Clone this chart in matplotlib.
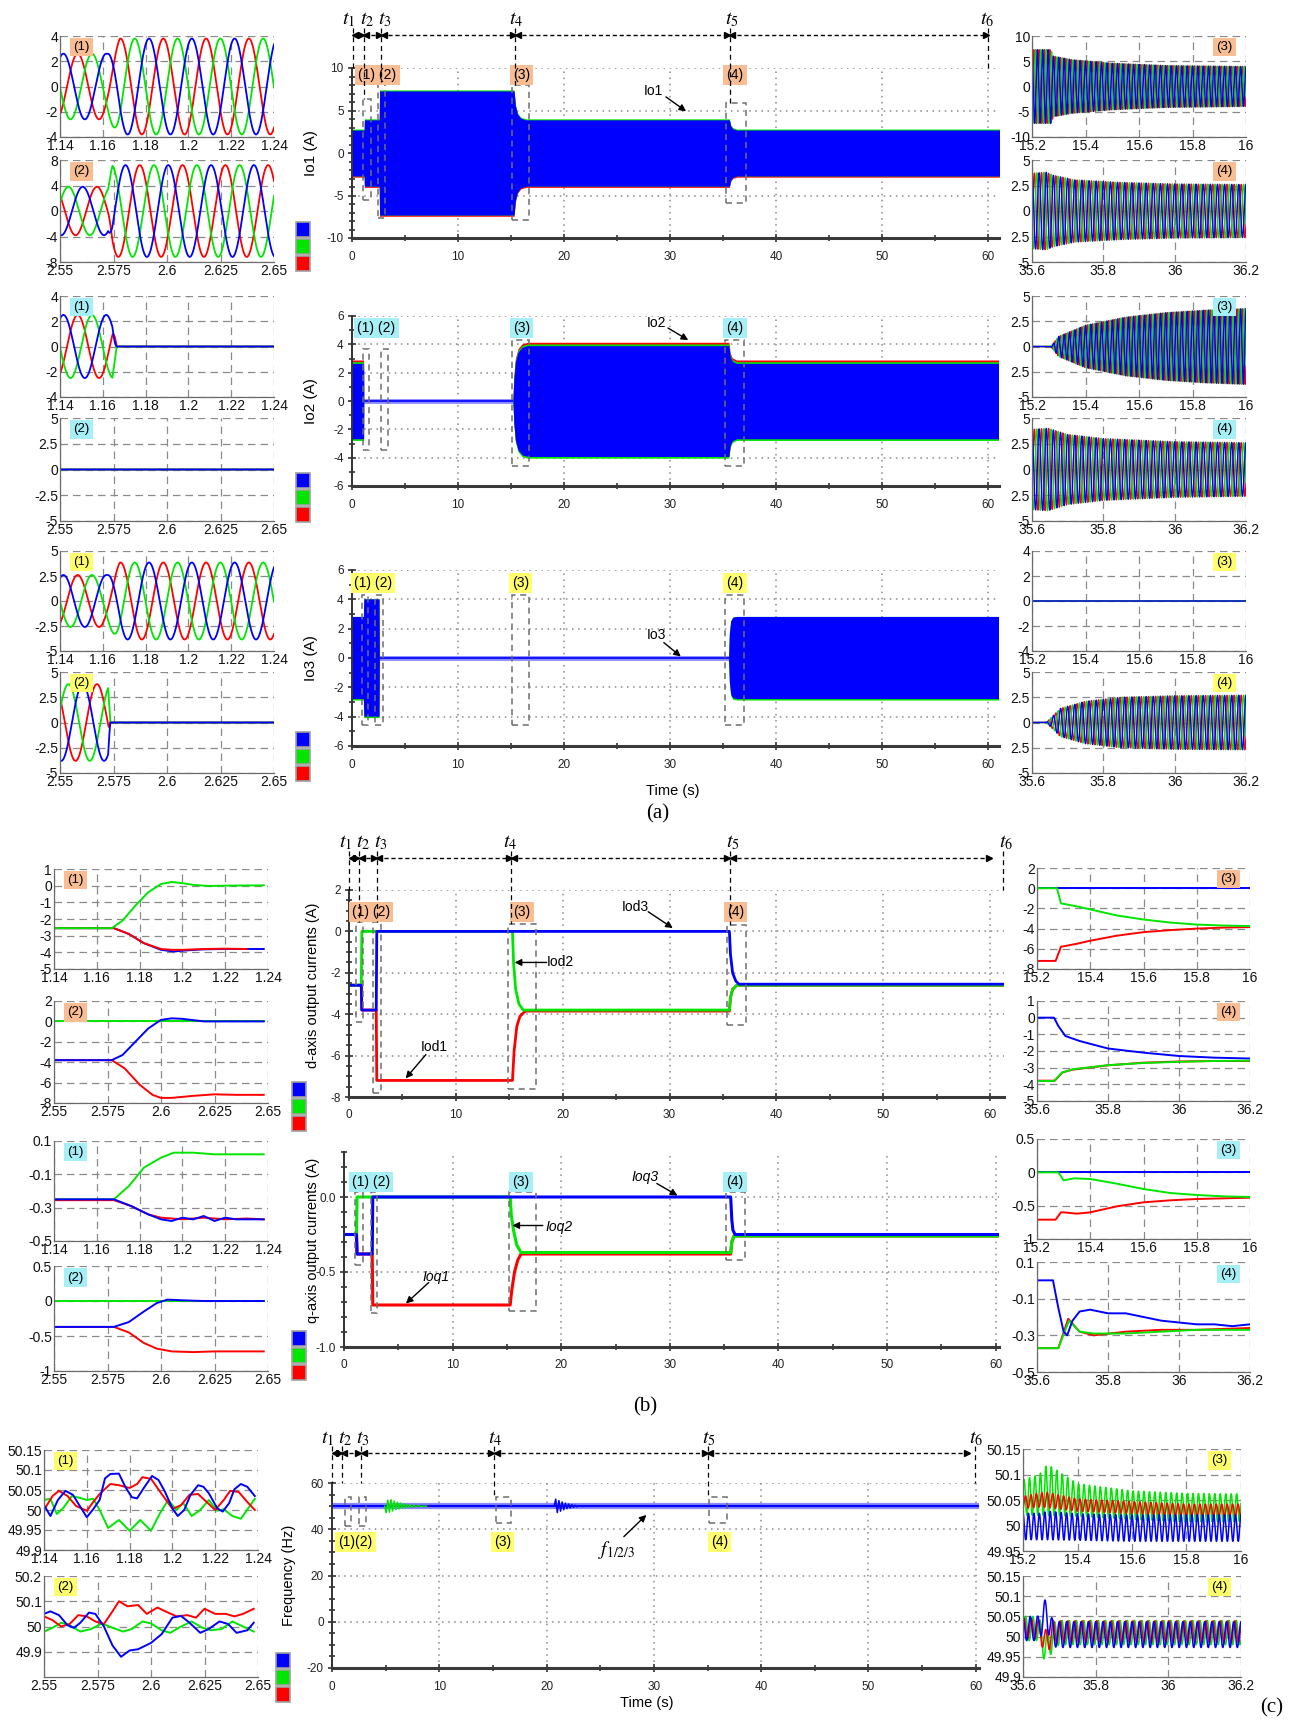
import numpy as np
import matplotlib
matplotlib.use("Agg")
import matplotlib.pyplot as plt
from matplotlib.patches import Rectangle
from matplotlib.lines import Line2D
import matplotlib.transforms as mtransforms

plt.rcParams['font.family'] = ['Liberation Sans', 'DejaVu Sans']
plt.rcParams['mathtext.fontset'] = 'stix'

W, H = 1295, 1720
fig = plt.figure(figsize=(W / 100, H / 100), dpi=100)

BLUE, GREEN, RED = '#0000ff', '#00e600', '#ff0000'
TAG_ORANGE, TAG_CYAN, TAG_YELLOW = '#f8bd93', '#a6eff7', '#ffff6b'
F_GRID = 50.0

# ====================== data ======================
# --- (a) output-current envelopes over the whole run (time s, peak A)
io1_env_t = [0, 1.15, 1.17, 2.57, 2.6, 15.28, 15.4, 15.6, 15.9, 16.4, 35.58, 35.7, 35.9, 36.3, 61.2]
io1_env_a = [2.7, 2.7, 3.9, 3.9, 7.3, 7.3, 5.6, 4.6, 4.1, 3.9, 3.9, 3.2, 2.85, 2.7, 2.7]
io2_env_t = [0, 1.14, 1.16, 15.22, 15.3, 15.45, 15.7, 16.1, 16.6, 35.58, 35.7, 35.9, 36.3, 61.2]
io2_env_a = [2.7, 2.7, 0, 0, 1.5, 2.8, 3.5, 3.85, 3.95, 3.95, 3.2, 2.85, 2.7, 2.7]
io3_env_t = [0, 1.12, 1.16, 2.6, 2.63, 35.55, 35.62, 35.75, 35.95, 36.3, 61.2]
io3_env_a = [2.8, 2.8, 4.0, 4.0, 0, 0, 1.6, 2.5, 2.75, 2.8, 2.8]

# --- (a) zoomed three-phase windows: envelope keypoints and phase-a peak instant
za1 = dict(t=[1.14, 1.162, 1.168, 1.24], a=[2.6, 2.6, 3.8, 3.8], peak=1.1416)
za2 = dict(t=[2.55, 2.5725, 2.5745, 2.65], a=[3.8, 3.8, 7.2, 7.2], peak=2.5606)
za3 = dict(t=[15.2, 15.27, 15.28, 15.35, 15.5, 15.7, 16.0], a=[7.3, 7.3, 6.0, 5.3, 4.6, 4.15, 3.95], peak=15.2)
za4 = dict(t=[35.6, 35.64, 35.66, 35.72, 35.85, 36.0, 36.2], a=[3.7, 3.8, 3.5, 3.05, 2.8, 2.65, 2.6], peak=35.6)
zb1 = dict(t=[1.14, 1.1645, 1.1665, 1.24], a=[2.5, 2.5, 0, 0], peak=1.1416)
zb2 = dict(t=[2.55, 2.65], a=[0, 0], peak=2.5606)
zb3 = dict(t=[15.2, 15.27, 15.3, 15.4, 15.55, 15.7, 15.85, 16.0], a=[0, 0, 1.0, 2.1, 2.9, 3.35, 3.6, 3.75], peak=15.2)
zb4 = dict(t=[35.6, 35.645, 35.7, 35.8, 36.0, 36.2], a=[3.9, 4.0, 3.4, 3.0, 2.7, 2.6], peak=35.6)
zc1 = dict(t=[1.14, 1.162, 1.168, 1.24], a=[2.6, 2.6, 3.85, 3.85], peak=1.1416)
zc2 = dict(t=[2.55, 2.5725, 2.5735, 2.65], a=[3.8, 3.8, 0, 0], peak=2.5606)
zc3 = dict(t=[15.2, 16.0], a=[0, 0], peak=15.2)
zc4 = dict(t=[35.6, 35.64, 35.68, 35.75, 35.85, 36.0, 36.2], a=[0, 0, 1.4, 2.1, 2.5, 2.65, 2.7], peak=35.6)

# --- (b) dq output currents over the whole run
iod1_t = [0, 1.15, 1.2, 2.55, 2.6, 15.3, 15.45, 15.7, 16.0, 16.5, 35.6, 35.7, 35.9, 36.3, 61.3]
iod1_v = [-2.6, -2.6, -3.8, -3.8, -7.2, -7.2, -5.8, -4.6, -4.1, -3.85, -3.85, -3.2, -2.8, -2.6, -2.6]
iod2_t = [0, 1.15, 1.2, 15.3, 15.4, 15.6, 15.9, 16.3, 35.6, 35.7, 35.9, 36.3, 61.3]
iod2_v = [-2.6, -2.6, 0, 0, -1.5, -2.8, -3.5, -3.8, -3.8, -3.2, -2.8, -2.6, -2.6]
iod3_t = [0, 1.15, 1.2, 2.55, 2.6, 35.6, 35.7, 35.9, 36.2, 36.5, 61.3]
iod3_v = [-2.6, -2.6, -3.8, -3.8, 0, 0, -1.1, -2.0, -2.4, -2.55, -2.55]
ioq1_t = [0, 1.15, 1.2, 2.6, 2.65, 15.3, 15.45, 15.7, 16.0, 16.3, 35.6, 35.7, 35.9, 60.3]
ioq1_v = [-0.25, -0.25, -0.38, -0.38, -0.72, -0.72, -0.62, -0.5, -0.42, -0.38, -0.38, -0.3, -0.26, -0.26]
ioq2_t = [0, 1.15, 1.2, 15.3, 15.4, 15.6, 15.9, 16.3, 35.6, 35.7, 35.9, 60.3]
ioq2_v = [-0.25, -0.25, 0, 0, -0.12, -0.22, -0.32, -0.37, -0.37, -0.3, -0.26, -0.26]
ioq3_t = [0, 1.15, 1.2, 2.6, 2.65, 35.6, 35.7, 35.8, 36.0, 60.3]
ioq3_v = [-0.25, -0.25, -0.38, -0.38, 0, 0, -0.15, -0.22, -0.25, -0.25]

# --- (b) zoomed d-axis windows
bd1_red = ([1.14, 1.168, 1.175, 1.182, 1.19, 1.195, 1.2, 1.21, 1.22, 1.23],
           [-2.55, -2.55, -2.9, -3.45, -3.8, -3.85, -3.85, -3.8, -3.78, -3.8])
bd1_blue = ([1.14, 1.168, 1.175, 1.182, 1.19, 1.196, 1.2, 1.21, 1.22, 1.238],
            [-2.55, -2.55, -2.9, -3.45, -3.85, -3.95, -3.9, -3.82, -3.8, -3.8])
bd1_green = ([1.14, 1.167, 1.172, 1.178, 1.184, 1.19, 1.195, 1.2, 1.205, 1.212, 1.22, 1.238],
             [-2.55, -2.55, -2.1, -1.2, -0.4, 0.1, 0.22, 0.15, 0.05, -0.02, 0.0, 0.02])
bd2_green = ([2.55, 2.648], [0.0, 0.0])
bd2_blue = ([2.55, 2.577, 2.582, 2.588, 2.594, 2.6, 2.605, 2.61, 2.62, 2.635, 2.648],
            [-3.8, -3.8, -3.3, -2.0, -0.7, 0.15, 0.3, 0.25, 0.0, 0.0, 0.0])
bd2_red = ([2.55, 2.577, 2.583, 2.59, 2.596, 2.6, 2.605, 2.615, 2.625, 2.635, 2.648],
           [-3.8, -3.8, -4.6, -6.2, -7.2, -7.5, -7.5, -7.3, -7.15, -7.2, -7.2])
bd3_blue = ([15.2, 16.0], [0.0, 0.0])
bd3_green = ([15.2, 15.275, 15.29, 15.35, 15.4, 15.5, 15.6, 15.7, 15.8, 15.9, 16.0],
             [0, 0, -1.5, -1.8, -2.1, -2.7, -3.1, -3.4, -3.6, -3.7, -3.75])
bd3_red = ([15.2, 15.27, 15.29, 15.35, 15.4, 15.5, 15.6, 15.7, 15.8, 15.9, 16.0],
           [-7.2, -7.2, -5.8, -5.5, -5.2, -4.7, -4.35, -4.15, -4.0, -3.9, -3.85])
bd4_blue = ([35.6, 35.648, 35.66, 35.68, 35.72, 35.8, 35.9, 36.0, 36.1, 36.2],
            [0, 0, -0.5, -1.1, -1.4, -1.85, -2.1, -2.3, -2.4, -2.45])
bd4_green = ([35.6, 35.648, 35.67, 35.7, 35.8, 35.9, 36.0, 36.1, 36.2],
             [-3.8, -3.8, -3.3, -3.1, -2.85, -2.72, -2.65, -2.6, -2.58])
bd4_red = ([35.6, 35.65, 35.672, 35.7, 35.8, 35.9, 36.0, 36.1, 36.2],
           [-3.78, -3.78, -3.28, -3.12, -2.86, -2.7, -2.63, -2.6, -2.6])

# --- (b) zoomed q-axis windows
bq1_green = ([1.14, 1.168, 1.175, 1.182, 1.19, 1.196, 1.205, 1.215, 1.238],
             [-0.25, -0.25, -0.17, -0.06, 0.0, 0.03, 0.03, 0.02, 0.02])
bq1_red = ([1.14, 1.168, 1.176, 1.184, 1.19, 1.2, 1.21, 1.22, 1.23, 1.238],
           [-0.255, -0.255, -0.29, -0.34, -0.36, -0.37, -0.36, -0.37, -0.365, -0.37])
bq1_blue = ([1.14, 1.168, 1.176, 1.184, 1.19, 1.195, 1.2, 1.205, 1.21, 1.215, 1.22, 1.225, 1.23, 1.238],
            [-0.25, -0.25, -0.29, -0.34, -0.37, -0.38, -0.36, -0.37, -0.35, -0.38, -0.36, -0.37, -0.37, -0.37])
bq2_green = ([2.55, 2.648], [0.0, 0.0])
bq2_blue = ([2.55, 2.578, 2.585, 2.592, 2.598, 2.603, 2.61, 2.62, 2.648],
            [-0.37, -0.37, -0.3, -0.15, -0.03, 0.02, 0.01, 0.0, 0.0])
bq2_red = ([2.55, 2.578, 2.585, 2.592, 2.598, 2.605, 2.615, 2.625, 2.648],
           [-0.37, -0.37, -0.45, -0.6, -0.68, -0.72, -0.73, -0.72, -0.72])
bq3_blue = ([15.2, 16.0], [0.0, 0.0])
bq3_green = ([15.2, 15.28, 15.3, 15.34, 15.4, 15.5, 15.6, 15.7, 15.8, 15.9, 16.0],
             [0, 0, -0.12, -0.09, -0.1, -0.17, -0.25, -0.31, -0.34, -0.36, -0.37])
bq3_red = ([15.2, 15.27, 15.29, 15.3, 15.35, 15.4, 15.5, 15.6, 15.7, 15.8, 15.9, 16.0],
           [-0.71, -0.71, -0.6, -0.6, -0.62, -0.6, -0.51, -0.45, -0.42, -0.4, -0.39, -0.38])
bq4_blue = ([35.6, 35.645, 35.66, 35.675, 35.685, 35.7, 35.72, 35.75, 35.8, 35.85, 35.9, 35.95, 36.0, 36.05, 36.1, 36.15, 36.2],
            [0.0, 0.0, -0.15, -0.28, -0.3, -0.22, -0.17, -0.16, -0.18, -0.18, -0.2, -0.22, -0.23, -0.24, -0.24, -0.25, -0.24])
bq4_green = ([35.6, 35.66, 35.69, 35.72, 35.76, 35.85, 35.95, 36.05, 36.2],
             [-0.37, -0.37, -0.22, -0.28, -0.29, -0.29, -0.28, -0.27, -0.27])
bq4_red = ([35.6, 35.66, 35.688, 35.72, 35.76, 35.85, 35.95, 36.05, 36.2],
           [-0.37, -0.37, -0.21, -0.28, -0.3, -0.28, -0.27, -0.27, -0.26])

# --- (c) frequency over the whole run
f_t = [0, 60.3]
f_v = [50.0, 50.0]
fg_t = [4.9, 5.05, 5.2, 5.35, 5.5, 5.65, 5.8, 5.95, 6.1, 6.25, 6.4, 6.55, 6.7, 6.85, 7.0, 7.15, 7.3, 7.45, 7.6, 7.8, 8.0, 8.3, 8.8]
fg_v = [50.0, 47.2, 52.6, 47.4, 52.8, 47.9, 52.2, 48.5, 51.7, 48.8, 51.3, 49.1, 51.0, 49.3, 50.7, 49.5, 50.5, 49.6, 50.4, 49.8, 50.2, 49.9, 50.0]
fb_t = [20.7, 20.85, 21.0, 21.15, 21.3, 21.45, 21.6, 21.75, 21.9, 22.05, 22.2, 22.35, 22.5, 22.65, 22.8, 23.0, 23.3, 23.8]
fb_v = [50.0, 53.0, 47.2, 52.4, 47.8, 51.8, 48.4, 51.3, 48.9, 50.9, 49.2, 50.6, 49.5, 50.4, 49.7, 50.2, 49.9, 50.0]

# --- (c) zoomed frequency windows (1), (2)
c1_blue = ([1.140, 1.143, 1.1465, 1.150, 1.1535, 1.1565, 1.160, 1.163, 1.166, 1.1685, 1.171, 1.175, 1.178, 1.181,
            1.1835, 1.1865, 1.1905, 1.1935, 1.1965, 1.200, 1.2025, 1.2055, 1.2085, 1.212, 1.2145, 1.217, 1.221,
            1.2235, 1.2265, 1.229, 1.232, 1.235, 1.2385],
           [50.012, 49.985, 50.025, 50.048, 50.038, 50.012, 49.982, 50.002, 50.025, 50.079, 50.090, 50.091, 50.058,
            50.032, 50.029, 50.054, 50.085, 50.075, 50.046, 50.004, 49.985, 50.000, 50.038, 50.062, 50.058, 50.042,
            50.004, 49.996, 50.017, 50.052, 50.065, 50.058, 50.035])
c1_red = ([1.140, 1.144, 1.147, 1.151, 1.155, 1.160, 1.163, 1.166, 1.171, 1.175, 1.180, 1.1835, 1.186, 1.190,
           1.195, 1.200, 1.204, 1.208, 1.212, 1.216, 1.220, 1.224, 1.227, 1.231, 1.235, 1.2385],
          [50.000, 50.035, 50.048, 50.035, 50.010, 49.998, 50.020, 50.040, 50.065, 50.062, 50.055, 50.065, 50.082,
           50.078, 50.040, 50.003, 50.012, 50.038, 50.040, 50.020, 50.000, 50.025, 50.048, 50.045, 50.020, 50.000])
c1_green = ([1.140, 1.143, 1.146, 1.149, 1.153, 1.157, 1.160, 1.163, 1.166, 1.170, 1.175, 1.180, 1.185, 1.190,
             1.194, 1.198, 1.202, 1.205, 1.209, 1.213, 1.217, 1.221, 1.224, 1.228, 1.232, 1.2385],
            [50.025, 50.028, 49.990, 50.005, 50.035, 50.030, 50.025, 50.028, 50.000, 49.955, 49.975, 49.948, 49.975,
             49.948, 49.990, 50.025, 50.000, 50.018, 49.985, 50.000, 50.025, 49.998, 50.002, 49.985, 49.978, 50.028])
c2_blue = ([2.550, 2.553, 2.557, 2.561, 2.564, 2.567, 2.571, 2.574, 2.578, 2.582, 2.586, 2.590, 2.594, 2.600,
            2.605, 2.610, 2.614, 2.618, 2.623, 2.627, 2.632, 2.636, 2.640, 2.645, 2.648],
           [50.050, 50.060, 50.045, 50.005, 49.995, 50.015, 50.055, 50.050, 50.000, 49.925, 49.880, 49.905, 49.910,
            49.935, 49.970, 50.035, 50.042, 50.015, 49.975, 49.990, 50.020, 50.010, 49.975, 49.985, 50.015])
c2_red = ([2.550, 2.554, 2.558, 2.562, 2.566, 2.570, 2.574, 2.578, 2.582, 2.585, 2.589, 2.594, 2.598, 2.603,
           2.608, 2.612, 2.617, 2.621, 2.625, 2.630, 2.635, 2.639, 2.643, 2.648],
          [50.040, 50.025, 50.000, 50.010, 50.045, 50.040, 50.020, 50.010, 50.060, 50.100, 50.080, 50.085, 50.050,
           50.075, 50.055, 50.040, 50.045, 50.035, 50.070, 50.050, 50.050, 50.040, 50.050, 50.070])
c2_green = ([2.550, 2.554, 2.558, 2.562, 2.567, 2.572, 2.577, 2.582, 2.587, 2.591, 2.596, 2.600, 2.605, 2.609,
             2.614, 2.619, 2.624, 2.628, 2.633, 2.638, 2.643, 2.648],
            [49.980, 49.995, 50.015, 50.005, 49.980, 49.990, 50.012, 49.995, 49.980, 49.990, 50.020, 50.012, 49.985,
             49.975, 50.000, 50.020, 49.995, 49.985, 49.990, 50.020, 50.000, 49.980])

# --- (c) zoomed windows (3), (4): mean level and ripple amplitude keypoints, ripple delay (s)
c3_t = [15.2, 15.26, 15.29, 15.4, 15.6, 15.8, 16.0]
c3_green = dict(mean=[50.055, 50.06, 50.07, 50.05, 50.04, 50.035, 50.035], amp=[0.035, 0.04, 0.05, 0.032, 0.028, 0.028, 0.027], delay=0.004)
c3_red = dict(mean=[50.045, 50.05, 50.05, 50.04, 50.035, 50.03, 50.03], amp=[0.012, 0.014, 0.015, 0.012, 0.012, 0.012, 0.012], delay=0.009)
c3_blue = dict(mean=[49.998, 49.998, 50.0, 49.997, 49.995, 49.995, 49.995], amp=[0.026, 0.026, 0.028, 0.026, 0.026, 0.026, 0.026], delay=0.0)
c4_t = [35.6, 35.64, 35.665, 35.68, 35.7, 36.2]
c4_green = dict(mean=[50.02, 50.02, 49.97, 50.0, 50.01, 50.01], amp=[0.03, 0.03, 0.045, 0.035, 0.03, 0.03], delay=0.007)
c4_red = dict(mean=[50.02, 50.02, 49.985, 50.01, 50.012, 50.012], amp=[0.025, 0.025, 0.03, 0.03, 0.027, 0.027], delay=0.003)
c4_blue = dict(mean=[50.02, 50.02, 50.06, 50.01, 50.005, 50.005], amp=[0.03, 0.03, 0.04, 0.035, 0.032, 0.032], delay=0.0)

# event instants (s) marked above each overview, and where their t-labels sit
ta_lines = [0.05, 1.1, 2.75, 15.4, 35.6, 60.0]
ta_labels = [-0.3, 1.45, 3.1, 15.5, 35.8, 59.9]
tb_lines = [0.0, 0.94, 2.6, 15.2, 35.65, 61.2]
tb_labels = [-0.35, 1.3, 2.95, 15.1, 35.9, 61.5]
tc_lines = [0.0, 0.9, 2.7, 15.1, 35.0, 59.9]
tc_labels = [-0.4, 1.2, 2.9, 15.25, 35.1, 60.0]


# ====================== helpers ======================
def fy(px):
    return 1 - px / H


def px_axes(left, top, right, bottom):
    return fig.add_axes([left / W, 1 - bottom / H, (right - left) / W, (bottom - top) / H])


def zoom_panel(box, xlim, xticks, xlabels, ylim, yticks, ylabels, tag, tag_color, tag_x):
    ax = px_axes(*box)
    ax.set_xlim(*xlim)
    ax.set_ylim(*ylim)
    ax.set_xticks(xticks, xlabels)
    ax.set_yticks(yticks, ylabels)
    ax.tick_params(length=0, labelsize=10, pad=1.5, labelcolor='#111111')
    ax.grid(True, color='#8a8a8a', linestyle=(0, (6, 4)), linewidth=0.9)
    ax.set_axisbelow(True)
    for s in ('top', 'right'):
        ax.spines[s].set_visible(False)
    for s in ('left', 'bottom'):
        ax.spines[s].set_color('#6a6a6a')
        ax.spines[s].set_linewidth(0.9)
    ax.text(tag_x, 0.89, tag, transform=ax.transAxes, ha='center', va='center', fontsize=9.5,
            bbox=dict(boxstyle='square,pad=0.25', fc=tag_color, ec='none'), zorder=6)
    return ax


def three_phase(ax, spec, lw=1.3):
    t = np.linspace(ax.get_xlim()[0], ax.get_xlim()[1], 4000)
    a = np.interp(t, spec['t'], spec['a'])
    w = 2 * np.pi * F_GRID
    blue = a * np.cos(w * (t - spec['peak']))
    red = a * np.cos(w * (t - spec['peak'] - 1 / (3 * F_GRID)))
    green = a * np.cos(w * (t - spec['peak'] - 2 / (3 * F_GRID)))
    ax.plot(t, red, color=RED, lw=lw)
    ax.plot(t, green, color=GREEN, lw=lw)
    ax.plot(t, blue, color=BLUE, lw=lw)


def ripple(ax, t_key, spec, color, lw=1.1):
    t = np.linspace(t_key[0], t_key[-1], 3000)
    m = np.interp(t, t_key, spec['mean'])
    a = np.interp(t, t_key, spec['amp'])
    ax.plot(t, m + a * np.cos(2 * np.pi * F_GRID * (t - spec['delay'])), color=color, lw=lw)


def overview_axes(box, xlim, ylim, yticks, ylabels, yminor):
    ax = px_axes(*box)
    ax.set_xlim(*xlim)
    ax.set_ylim(*ylim)
    ax.set_xticks(np.arange(0, 61, 10))
    ax.set_xticks(np.arange(5, 61, 10), minor=True)
    ax.set_yticks(yticks, ylabels)
    ax.set_yticks(yminor, minor=True)
    for s in ('top', 'right'):
        ax.spines[s].set_visible(False)
    ax.spines['left'].set_linewidth(1.4)
    ax.spines['left'].set_color('#333333')
    ax.spines['bottom'].set_linewidth(2.2)
    ax.spines['bottom'].set_color('#3a3a3a')
    ax.tick_params(which='both', direction='inout', length=6, width=1.2, colors='#333333',
                   labelsize=8.5, labelcolor='#222222', pad=3)
    ax.tick_params(axis='x', pad=6)
    ax.tick_params(which='minor', length=4)
    ax.grid(True, which='major', color='#8a8a8a', linestyle=(0, (1, 3)), linewidth=1.1)
    ax.set_axisbelow(True)
    return ax


def dbox(ax, x0, x1, y0, y1):
    ax.add_patch(Rectangle((x0, y0), x1 - x0, y1 - y0, fill=False, ec='#6e6e6e',
                           ls=(0, (4, 3)), lw=1.1, zorder=5))


def tag(ax, x, y, s, color, size=10):
    ax.text(x, y, s, ha='center', va='center', fontsize=size, zorder=6,
            bbox=dict(boxstyle='square,pad=0.22', fc=color, ec='none'))


def pointer(ax, text, text_xy, start, tip, italic=False):
    ax.text(*text_xy, text, ha='center', va='center', fontsize=10,
            style='italic' if italic else 'normal', zorder=7)
    ax.annotate('', xy=tip, xytext=start, zorder=7,
                arrowprops=dict(arrowstyle='-|>', color='black', lw=1.0, mutation_scale=10,
                                shrinkA=0, shrinkB=0))


def event_marks(ax, box_tb, ylim, lines, label_xs, stops, arrow_pts, y_label, y_arrow):
    trans = mtransforms.blended_transform_factory(ax.transData, fig.transFigure)
    top, bottom = box_tb
    for x, s in zip(lines, stops):
        py = top + (ylim[1] - s) / (ylim[1] - ylim[0]) * (bottom - top)
        fig.add_artist(Line2D([x, x], [fy(y_arrow - 7), fy(py)], transform=trans,
                              color='black', lw=0.9, ls=(0, (4, 3))))
    for i, x in enumerate(label_xs):
        ax.text(x, fy(y_label), f'$t_{i + 1}$', transform=trans, ha='center', va='center',
                fontsize=14.5)
    for x0, x1 in zip(arrow_pts[:-1], arrow_pts[1:]):
        fig.add_artist(Line2D([x0, x1], [fy(y_arrow)] * 2, transform=trans, color='black',
                              lw=1.0, ls=(0, (3, 2))))
        fig.add_artist(Line2D([x0 + 0.25], [fy(y_arrow)], transform=trans, marker='<', ms=4.5,
                              color='black', ls='none'))
        fig.add_artist(Line2D([x1 - 0.25], [fy(y_arrow)], transform=trans, marker='>', ms=4.5,
                              color='black', ls='none'))


def color_keys(x, y_top):
    for i, c in enumerate([BLUE, GREEN, RED]):
        y0 = y_top + i * 17
        fig.add_artist(Rectangle((x / W, fy(y0 + 15)), 14 / W, 15 / H, transform=fig.transFigure,
                                 fc=c, ec='#a0a0a0', lw=1.2))


def ylabel(x, yc, s, size=11):
    fig.text(x / W, fy(yc), s, rotation=90, ha='center', va='center', fontsize=size)


X_114 = (np.arange(1.14, 1.2401, 0.02), ['1.14', '1.16', '1.18', '1.2', '1.22', '1.24'])
X_255 = (np.arange(2.55, 2.6501, 0.025), ['2.55', '2.575', '2.6', '2.625', '2.65'])
X_152 = (np.arange(15.2, 16.001, 0.2), ['15.2', '15.4', '15.6', '15.8', '16'])
X_356 = (np.arange(35.6, 36.201, 0.2), ['35.6', '35.8', '36', '36.2'])

# ====================== (a) output currents ======================
t_full = np.linspace(0, 61.2, 12241)


def band(ax, env_t, env_a, layers):
    a = np.interp(t_full, env_t, env_a)
    on = a > 0.02
    for color, up, lo in layers:
        ax.fill_between(t_full, -a - lo, a + up, where=on, color=color, lw=0, zorder=1.5)


A_X = (352, 999)

ax1 = overview_axes((A_X[0], 68, A_X[1], 238), (0, 61), (-10, 10), [-10, -5, 0, 5, 10],
                    ['-10', '-5', '0', '5', '10'], np.arange(-10, 11, 1))
band(ax1, io1_env_t, io1_env_a, [(RED, 0, 0.14), (GREEN, 0.12, 0), (BLUE, 0, 0)])
for b in [(1.07, 1.81, -5.5, 6.3), (2.43, 3.12, -7.7, 8.3), (15.1, 16.66, -7.9, 8.0), (35.3, 37.1, -5.9, 5.9)]:
    dbox(ax1, *b)
tag(ax1, 2.4, 9.2, '(1) (2)', TAG_ORANGE)
tag(ax1, 16.0, 9.2, '(3)', TAG_ORANGE)
tag(ax1, 36.1, 9.2, '(4)', TAG_ORANGE)
pointer(ax1, 'Io1', (28.4, 7.3), (29.6, 6.6), (31.5, 4.9))
event_marks(ax1, (68, 238), (-10, 10), ta_lines, ta_labels, [10, 6.3, 8.3, 8.0, 5.9, 10], ta_lines, 20, 35)

ax2 = overview_axes((A_X[0], 316, A_X[1], 486), (0, 61), (-6, 6), [-6, -4, -2, 0, 2, 4, 6],
                    ['-6', '-4', '-2', '0', '2', '4', '6'], np.arange(-6, 6.1, 1))
ax2.plot([0, 61.2], [0, 0], color='#8c8cff', lw=3.5, zorder=1)
ax2.plot([0, 61.2], [0, 0], color=BLUE, lw=1.2, zorder=1.2)
band(ax2, io2_env_t, io2_env_a, [(RED, 0.16, 0), (GREEN, 0.04, 0.12), (BLUE, -0.08, 0)])
for b in [(1.0, 1.6, -3.46, 3.67), (2.7, 3.4, -3.46, 3.67), (15.1, 16.7, -4.56, 4.3), (35.2, 37.0, -4.56, 4.3)]:
    dbox(ax2, *b)
tag(ax2, 2.3, 5.15, '(1) (2)', TAG_CYAN)
tag(ax2, 16.0, 5.15, '(3)', TAG_CYAN)
tag(ax2, 36.1, 5.15, '(4)', TAG_CYAN)
pointer(ax2, 'Io2', (28.7, 5.5), (29.8, 5.15), (31.7, 4.3))

ax3 = overview_axes((A_X[0], 570, A_X[1], 746), (0, 61), (-6, 6), [-6, -4, -2, 0, 2, 4, 6],
                    ['-6', '-4', '-2', '0', '2', '4', '6'], np.arange(-6, 6.1, 1))
ax3.plot([0, 61.2], [0, 0], color='#8c8cff', lw=3.5, zorder=1)
ax3.plot([0, 61.2], [0, 0], color=BLUE, lw=1.2, zorder=1.2)
band(ax3, io3_env_t, io3_env_a, [(GREEN, 0, 0.1), (BLUE, 0, 0)])
for b in [(0.92, 1.55, -4.6, 4.3), (2.18, 2.9, -4.6, 4.3), (15.1, 16.7, -4.6, 4.3), (35.2, 37.0, -4.6, 4.3)]:
    dbox(ax3, *b)
tag(ax3, 2.0, 5.1, '(1) (2)', TAG_YELLOW)
tag(ax3, 15.9, 5.1, '(3)', TAG_YELLOW)
tag(ax3, 36.1, 5.1, '(4)', TAG_YELLOW)
pointer(ax3, 'Io3', (28.7, 1.6), (29.4, 1.05), (31.0, 0.1))
fig.text(673 / W, fy(791), 'Time (s)', ha='center', va='center', fontsize=10.5)

ylabel(311, 153, 'Io1 (A)')
ylabel(311, 401, 'Io2 (A)')
ylabel(311, 658, 'Io3 (A)')
color_keys(296, 222)
color_keys(296, 473)
color_keys(296, 732)

Y4 = ([-4, -2, 0, 2, 4], ['-4', '-2', '0', '2', '4'])
Y8 = ([-8, -4, 0, 4, 8], ['-8', '-4', '0', '4', '8'])
Y5 = ([-5, -2.5, 0, 2.5, 5], ['-5', '-2.5', '0', '2.5', '5'])
Y5r = ([-5, -2.5, 0, 2.5, 5], ['-5', '2.5', '0', '2.5', '5'])
Y10 = ([-10, -5, 0, 5, 10], ['-10', '-5', '0', '5', '10'])

LA, RA = (60, 274), (1032, 1246)
rows_a = [(36, 137), (160, 262), (296, 397), (418, 521), (551, 651), (672, 773)]
left_specs = [
    (X_114, (-4, 4), Y4, za1, '(1)', TAG_ORANGE),
    (X_255, (-8, 8), Y8, za2, '(2)', TAG_ORANGE),
    (X_114, (-4, 4), Y4, zb1, '(1)', TAG_CYAN),
    (X_255, (-5, 5), Y5, zb2, '(2)', TAG_CYAN),
    (X_114, (-5, 5), Y5, zc1, '(1)', TAG_YELLOW),
    (X_255, (-5, 5), Y5, zc2, '(2)', TAG_YELLOW),
]
right_specs = [
    (X_152, (-10, 10), Y10, za3, '(3)', TAG_ORANGE),
    (X_356, (-5, 5), Y5r, za4, '(4)', TAG_ORANGE),
    (X_152, (-5, 5), Y5r, zb3, '(3)', TAG_CYAN),
    (X_356, (-5, 5), Y5r, zb4, '(4)', TAG_CYAN),
    (X_152, (-4, 4), Y4, zc3, '(3)', TAG_YELLOW),
    (X_356, (-5, 5), Y5r, zc4, '(4)', TAG_YELLOW),
]
for (tb, spec) in zip(rows_a, left_specs):
    xt, yl, yt, wave, lab, col = spec
    ax = zoom_panel((LA[0], tb[0], LA[1], tb[1]), (xt[0][0], xt[0][-1]), xt[0], xt[1], yl, yt[0], yt[1],
                    lab, col, 0.1)
    three_phase(ax, wave)
for (tb, spec) in zip(rows_a, right_specs):
    xt, yl, yt, wave, lab, col = spec
    ax = zoom_panel((RA[0], tb[0], RA[1], tb[1]), (xt[0][0], xt[0][-1]), xt[0], xt[1], yl, yt[0], yt[1],
                    lab, col, 0.9)
    three_phase(ax, wave, lw=1.0)

fig.text(658 / W, fy(814), '(a)', ha='center', va='center', fontsize=15, family='Liberation Serif')

# ====================== (b) dq currents ======================
axd = overview_axes((349, 890, 1004, 1097), (0, 61.3), (-8, 2), [-8, -6, -4, -2, 0, 2],
                    ['-8', '-6', '-4', '-2', '0', '2'], np.arange(-8, 2.1, 0.5))
axd.plot(iod1_t, iod1_v, color=RED, lw=2.0)
axd.plot(iod2_t, iod2_v, color=GREEN, lw=2.0)
axd.plot(iod3_t, iod3_v, color=BLUE, lw=2.0)
for b in [(0.66, 1.27, -4.4, 0.47), (2.28, 2.97, -7.8, 0.47), (14.87, 17.5, -7.6, 0.36), (35.4, 37.2, -4.5, 0.3)]:
    dbox(axd, *b)
tag(axd, 2.06, 0.95, '(1) (2)', TAG_ORANGE)
tag(axd, 16.2, 0.95, '(3)', TAG_ORANGE)
tag(axd, 36.2, 0.95, '(4)', TAG_ORANGE)
pointer(axd, 'Iod3', (26.8, 1.2), (28.0, 0.95), (30.3, 0.16))
pointer(axd, 'Iod2', (19.8, -1.5), (18.5, -1.5), (15.5, -1.5))
pointer(axd, 'Iod1', (8.0, -5.6), (7.2, -5.95), (5.3, -7.1))
event_marks(axd, (890, 1097), (-8, 2), tb_lines, tb_labels, [2, 0.47, 0.47, 0.36, 0.3, 2],
            tb_lines[:5] + [60.1], 842, 858)
ylabel(313, 985, 'd-axis output currents (A)', size=10.5)
color_keys(292, 1082)

axq = overview_axes((344, 1152, 999, 1347), (0, 60.3), (-1.0, 0.3), [-1.0, -0.5, 0.0],
                    ['-1.0', '-0.5', '0.0'], np.arange(-1.0, 0.31, 0.1))
axq.plot(ioq1_t, ioq1_v, color=RED, lw=2.2)
axq.plot(ioq2_t, ioq2_v, color=GREEN, lw=2.2)
axq.plot(ioq3_t, ioq3_v, color=BLUE, lw=2.2)
for b in [(0.97, 1.74, -0.45, 0.035), (2.47, 3.0, -0.77, 0.035), (15.2, 17.7, -0.76, 0.035), (35.2, 36.9, -0.42, 0.035)]:
    dbox(axq, *b)
tag(axq, 2.47, 0.1, '(1) (2)', TAG_CYAN)
tag(axq, 16.3, 0.1, '(3)', TAG_CYAN)
tag(axq, 36.0, 0.1, '(4)', TAG_CYAN)
pointer(axq, 'Ioq3', (27.7, 0.135), (28.8, 0.09), (30.7, 0.01), italic=True)
pointer(axq, 'Ioq2', (19.8, -0.2), (18.3, -0.19), (15.5, -0.19), italic=True)
pointer(axq, 'Ioq1', (8.5, -0.53), (7.8, -0.57), (5.7, -0.71), italic=True)
ylabel(313, 1240, 'q-axis output currents (A)', size=10.5)
color_keys(292, 1331)

LB, RB = (54, 268), (1037, 1250)
rows_b = [(869, 969), (1001, 1103), (1141, 1241), (1266, 1371)]
Yd1 = ([-5, -4, -3, -2, -1, 0, 1], ['-5', '-4', '-3', '-2', '-1', '0', '1'])
Yd2 = ([-8, -6, -4, -2, 0, 2], ['-8', '-6', '-4', '-2', '0', '2'])
Yq1 = ([-0.5, -0.3, -0.1, 0.1], ['-0.5', '-0.3', '-0.1', '0.1'])
Yq2 = ([-1, -0.5, 0, 0.5], ['-1', '-0.5', '0', '0.5'])
b_left = [
    (X_114, (-5, 1), Yd1, [bd1_blue, bd1_red, bd1_green], [BLUE, RED, GREEN], '(1)', TAG_ORANGE),
    (X_255, (-8, 2), Yd2, [bd2_green, bd2_red, bd2_blue], [GREEN, RED, BLUE], '(2)', TAG_ORANGE),
    (X_114, (-0.5, 0.1), Yq1, [bq1_green, bq1_red, bq1_blue], [GREEN, RED, BLUE], '(1)', TAG_CYAN),
    (X_255, (-1, 0.5), Yq2, [bq2_green, bq2_red, bq2_blue], [GREEN, RED, BLUE], '(2)', TAG_CYAN),
]
b_right = [
    (X_152, (-8, 2), Yd2, [bd3_blue, bd3_red, bd3_green], [BLUE, RED, GREEN], '(3)', TAG_ORANGE),
    (X_356, (-5, 1), Yd1, [bd4_blue, bd4_red, bd4_green], [BLUE, RED, GREEN], '(4)', TAG_ORANGE),
    (X_152, (-1, 0.5), Yq2, [bq3_blue, bq3_red, bq3_green], [BLUE, RED, GREEN], '(3)', TAG_CYAN),
    (X_356, (-0.5, 0.1), Yq1, [bq4_red, bq4_green, bq4_blue], [RED, GREEN, BLUE], '(4)', TAG_CYAN),
]
for (tb, spec) in zip(rows_b, b_left):
    xt, yl, yt, series, cols, lab, col = spec
    ax = zoom_panel((LB[0], tb[0], LB[1], tb[1]), (xt[0][0], xt[0][-1]), xt[0], xt[1], yl, yt[0], yt[1],
                    lab, col, 0.1)
    for (st, sv), c in zip(series, cols):
        ax.plot(st, sv, color=c, lw=1.4)
rows_br = [(868, 969), (1001, 1101), (1139, 1239), (1262, 1372)]
for (tb, spec) in zip(rows_br, b_right):
    xt, yl, yt, series, cols, lab, col = spec
    ax = zoom_panel((RB[0], tb[0], RB[1], tb[1]), (xt[0][0], xt[0][-1]), xt[0], xt[1], yl, yt[0], yt[1],
                    lab, col, 0.9)
    for (st, sv), c in zip(series, cols):
        ax.plot(st, sv, color=c, lw=1.4)

fig.text(645 / W, fy(1407), '(b)', ha='center', va='center', fontsize=15, family='Liberation Serif')

# ====================== (c) frequency ======================
axf = overview_axes((332, 1483, 979, 1668), (0, 60.3), (-20, 60), [-20, 0, 20, 40, 60],
                    ['-20', '0', '20', '40', '60'], np.arange(-20, 61, 5))
axf.plot(f_t, f_v, color='#8c8cff', lw=4.5, zorder=2)
axf.plot(f_t, f_v, color=BLUE, lw=1.6, zorder=2.1)
axf.plot(fg_t, fg_v, color=GREEN, lw=1.1, zorder=2.2)
axf.plot(fb_t, fb_v, color=BLUE, lw=1.1, zorder=2.2)
for b in [(1.2, 1.8, 41.4, 54.1), (2.54, 3.19, 41.4, 54.1), (15.26, 16.7, 42.6, 54.1), (35.1, 36.8, 42.6, 54.1)]:
    dbox(axf, *b)
tag(axf, 2.2, 34.6, '(1)(2)', TAG_YELLOW)
tag(axf, 15.9, 34.6, '(3)', TAG_YELLOW)
tag(axf, 36.1, 34.6, '(4)', TAG_YELLOW)
axf.text(26.5, 31.0, r'$f_{1/2/3}$', ha='center', va='center', fontsize=14, zorder=7)
axf.annotate('', xy=(29.3, 46.2), xytext=(27.2, 36.8), zorder=7,
             arrowprops=dict(arrowstyle='-|>', color='black', lw=1.0, mutation_scale=10, shrinkA=0, shrinkB=0))
event_marks(axf, (1483, 1668), (-20, 60), tc_lines, tc_labels, [60, 60, 60, 54.1, 54.1, 60],
            tc_lines[:5] + [59.4], 1439, 1453)
fig.text(647 / W, fy(1703), 'Time (s)', ha='center', va='center', fontsize=10.5)
ylabel(289, 1575, 'Frequency (Hz)', size=10.5)
color_keys(276, 1653)

Yf1 = ([49.9, 49.95, 50, 50.05, 50.1, 50.15], ['49.9', '49.95', '50', '50.05', '50.1', '50.15'])
Yf2 = ([49.9, 50, 50.1, 50.2], ['49.9', '50', '50.1', '50.2'])
Yf3 = ([49.95, 50, 50.05, 50.1, 50.15], ['49.95', '50', '50.05', '50.1', '50.15'])

axc1 = zoom_panel((44, 1450, 258, 1550), (1.14, 1.24), X_114[0], X_114[1], (49.9, 50.15), Yf1[0], Yf1[1],
                  '(1)', TAG_YELLOW, 0.1)
for (st, sv), c in zip([c1_green, c1_red, c1_blue], [GREEN, RED, BLUE]):
    axc1.plot(st, sv, color=c, lw=1.4)
axc2 = zoom_panel((44, 1576, 258, 1677), (2.55, 2.65), X_255[0], X_255[1], (49.8, 50.2), Yf2[0], Yf2[1],
                  '(2)', TAG_YELLOW, 0.1)
for (st, sv), c in zip([c2_green, c2_red, c2_blue], [GREEN, RED, BLUE]):
    axc2.plot(st, sv, color=c, lw=1.4)

axc3 = zoom_panel((1023, 1449, 1241, 1551), (15.2, 16.0), X_152[0], X_152[1], (49.95, 50.15), Yf3[0], Yf3[1],
                  '(3)', TAG_YELLOW, 0.9)
ripple(axc3, c3_t, c3_green, GREEN)
ripple(axc3, c3_t, c3_red, RED)
ripple(axc3, c3_t, c3_blue, BLUE)
axc4 = zoom_panel((1023, 1576, 1241, 1677), (35.6, 36.2), X_356[0], X_356[1], (49.9, 50.15), Yf1[0], Yf1[1],
                  '(4)', TAG_YELLOW, 0.9)
ripple(axc4, c4_t, c4_green, GREEN)
ripple(axc4, c4_t, c4_red, RED)
ripple(axc4, c4_t, c4_blue, BLUE)

fig.text(1272 / W, fy(1708), '(c)', ha='center', va='center', fontsize=15, family='Liberation Serif')

fig.savefig('out.png', dpi=100)
